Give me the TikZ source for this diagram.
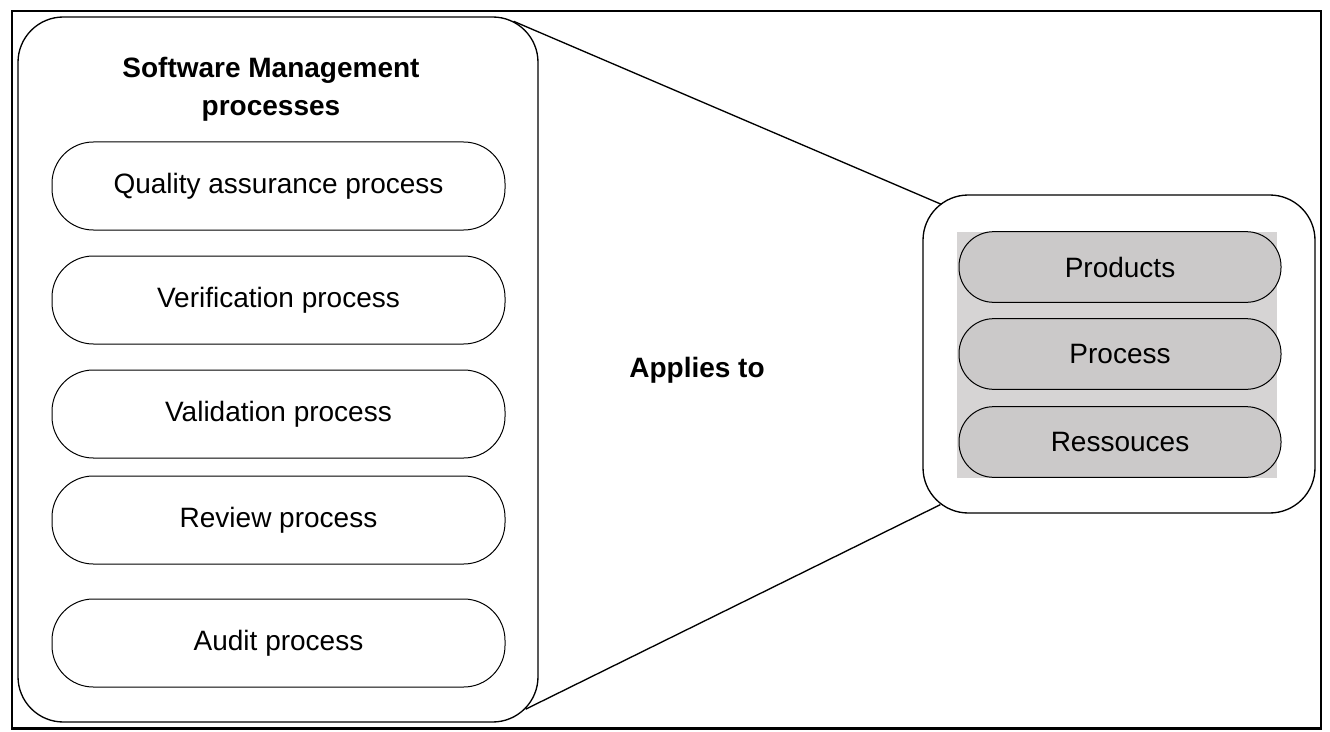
\documentclass[tikz,border=0pt]{standalone}
\usepackage{fontspec}
\setmainfont{Liberation Sans}
\usetikzlibrary{calc}

\definecolor{panelgray}{RGB}{214,212,212}
\definecolor{pillgray}{RGB}{203,201,201}

\tikzset{every picture/.style={line width=0.75pt}}
\tikzset{
  procbox/.style={draw, rounded corners=31pt, minimum width=339.75pt, minimum height=66pt, inner sep=0pt, font=\fontsize{21}{25}\selectfont},
  itembox/.style={draw, fill=pillgray, rounded corners=26pt, minimum width=241.5pt, minimum height=53pt, inner sep=0pt, font=\fontsize{21}{25}\selectfont},
  bigbox/.style={draw, line width=1pt, rounded corners=34pt, inner sep=0pt},
  boldtext/.style={font=\fontsize{21}{28.5}\selectfont\bfseries, align=center, inner sep=0pt}
}

\begin{document}
\begin{tikzpicture}[x=0.75pt,y=0.75pt,yscale=-1,xscale=1]
\useasboundingbox (0,0) rectangle (1330,731);

%Shape: Frame
\draw [line width=1.8pt] (12,11) rectangle (1321,728.5) ;

%Shape: Rounded Rect
\node [bigbox, minimum width=390pt, minimum height=528.75pt] (smp) at (278,369.5) {};
% Text Node
\node [boldtext] (title) at (271,89) {Software Management\\processes};

%Shape: Rounded Rect
\node [procbox] (quality) at (278.5,186) {Quality assurance process};
\node [procbox] (verif) at (278.5,300) {Verification process};
\node [procbox] (valid) at (278.5,414) {Validation process};
\node [procbox] (review) at (278.5,520) {Review process};
\node [procbox] (audit) at (278.5,643) {Audit process};

%Shape: Rounded Rect
\node [bigbox, minimum width=294pt, minimum height=238.5pt] (target) at (1119,354) {};
%Shape: Rectangle
\fill [panelgray] (957,232) rectangle (1277,478) ;
\node [itembox] (products) at (1120,267) {Products};
\node [itembox] (process) at (1120,354) {Process};
\node [itembox] (resources) at (1120,442) {Ressouces};

% Text Node
\node [boldtext] (applies) at (697,370) {Applies to};

%Straight Lines
\draw [line width=1pt] ($(smp.north east)+(-25,5)$) -- ($(target.north west)+(19,10)$) ;
\draw [line width=1pt] ($(smp.south east)+(-13,-13.5)$) -- ($(target.south west)+(18,-9)$) ;

\end{tikzpicture}
\end{document}
